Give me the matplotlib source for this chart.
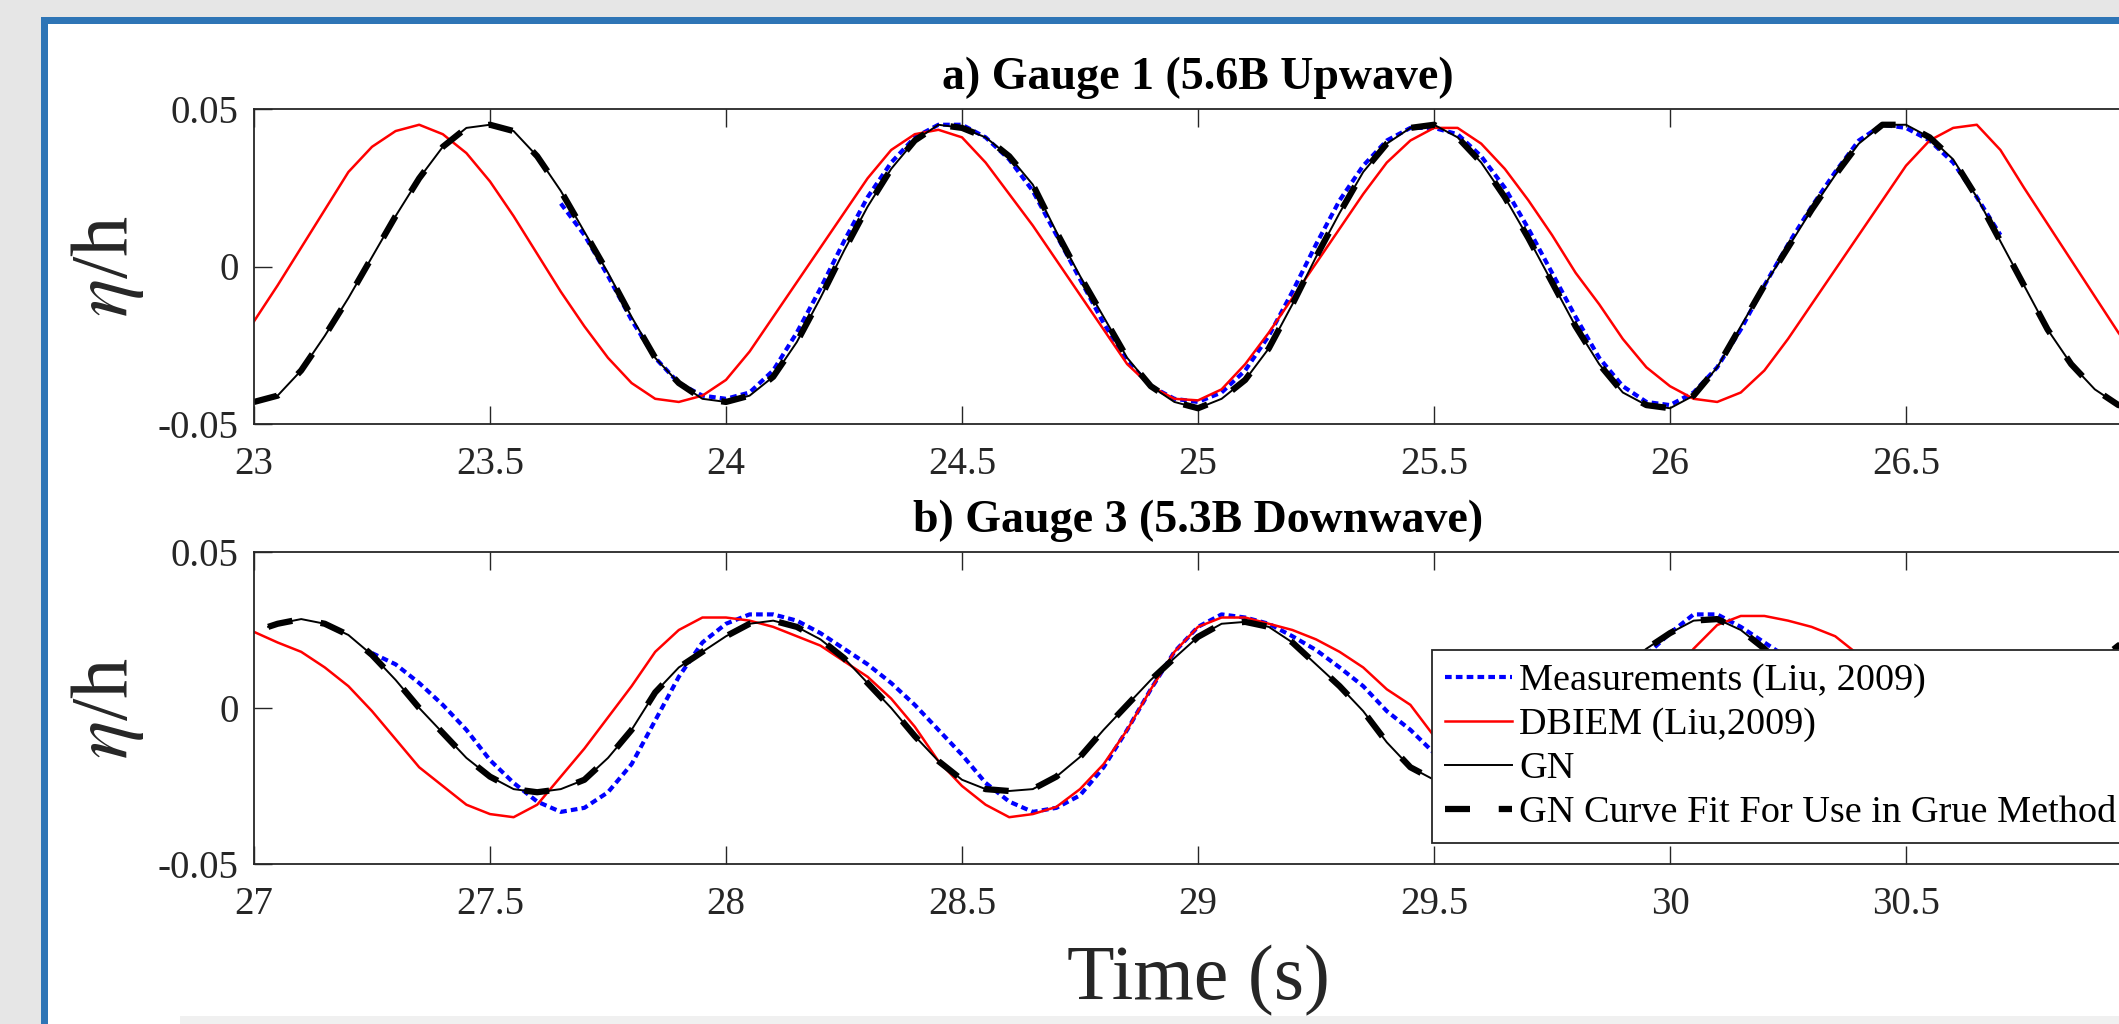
import numpy as np
import matplotlib
matplotlib.use("Agg")
import matplotlib.pyplot as plt
from matplotlib.patches import Rectangle

plt.rcParams['font.family'] = ['Liberation Serif', 'DejaVu Serif']
plt.rcParams['mathtext.fontset'] = 'stix'

# --- Data ---
# a) Gauge 1 (5.6B Upwave)
t_top = np.round(np.arange(23.0, 27.0001, 0.05), 2)
gn_top = [-0.043, -0.041, -0.033, -0.022, -0.010, 0.003, 0.016, 0.028, 0.038, 0.044,
          0.045, 0.043, 0.035, 0.024, 0.011, -0.002, -0.016, -0.029, -0.037, -0.042,
          -0.043, -0.041, -0.035, -0.024, -0.010, 0.005, 0.019, 0.031, 0.040, 0.045,
          0.044, 0.041, 0.035, 0.026, 0.011, -0.003, -0.016, -0.029, -0.038, -0.043,
          -0.045, -0.042, -0.036, -0.026, -0.012, 0.003, 0.017, 0.030, 0.039, 0.044,
          0.045, 0.041, 0.033, 0.022, 0.009, -0.005, -0.019, -0.031, -0.040, -0.044,
          -0.045, -0.041, -0.032, -0.019, -0.006, 0.006, 0.018, 0.029, 0.039, 0.045,
          0.045, 0.041, 0.034, 0.022, 0.008, -0.006, -0.020, -0.031, -0.039, -0.044,
          -0.045]
fit_top = gn_top
dbiem_top = [-0.0174, -0.006, 0.006, 0.018, 0.030, 0.038, 0.043, 0.045, 0.042, 0.036,
             0.027, 0.016, 0.004, -0.008, -0.019, -0.029, -0.037, -0.042, -0.043, -0.041,
             -0.036, -0.027, -0.016, -0.005, 0.006, 0.017, 0.028, 0.037, 0.042, 0.0434,
             0.041, 0.033, 0.023, 0.013, 0.002, -0.009, -0.020, -0.031, -0.038, -0.042,
             -0.0425, -0.039, -0.031, -0.021, -0.010, 0.001, 0.012, 0.023, 0.033, 0.040,
             0.044, 0.044, 0.039, 0.031, 0.021, 0.010, -0.002, -0.012, -0.023, -0.032,
             -0.038, -0.042, -0.043, -0.040, -0.033, -0.023, -0.012, -0.001, 0.010, 0.021,
             0.032, 0.040, 0.044, 0.045, 0.037, 0.025, 0.0135, 0.002, -0.0095, -0.021,
             -0.031]
t_meas_top = np.round(np.arange(23.65, 26.7001, 0.05), 2)
meas_top = [0.020, 0.010, -0.003, -0.017, -0.029, -0.037, -0.041, -0.042,
            -0.040, -0.033, -0.021, -0.007, 0.008, 0.022, 0.033, 0.041, 0.045, 0.045,
            0.041, 0.034, 0.024, 0.010, -0.004, -0.018, -0.030, -0.038, -0.042, -0.043,
            -0.040, -0.033, -0.022, -0.008, 0.007, 0.021, 0.032, 0.040, 0.044, 0.044,
            0.042, 0.035, 0.025, 0.012, -0.002, -0.016, -0.029, -0.038, -0.043, -0.044,
            -0.040, -0.032, -0.020, -0.006, 0.007, 0.019, 0.030, 0.040, 0.045, 0.044,
            0.040, 0.033, 0.022, 0.010]

# b) Gauge 3 (5.3B Downwave)
t_bot = np.round(np.arange(27.0, 31.0001, 0.05), 2)
t_gn_bot = np.concatenate([[27.03], t_bot[1:]])
gn_bot = [0.026, 0.027, 0.0285, 0.027, 0.0234, 0.017, 0.009, 0.000, -0.008, -0.016,
          -0.022, -0.026, -0.027, -0.026, -0.023, -0.016, -0.007, 0.005, 0.013, 0.018,
          0.023, 0.027, 0.028, 0.026, 0.022, 0.016, 0.008, 0.000, -0.009, -0.017,
          -0.023, -0.026, -0.0266, -0.026, -0.022, -0.0157, -0.007, 0.001, 0.009, 0.016,
          0.0228, 0.027, 0.0276, 0.026, 0.021, 0.014, 0.007, -0.001, -0.011, -0.019,
          -0.023, -0.026, -0.027, -0.026, -0.022, -0.015, -0.006, 0.004, 0.013, 0.019,
          0.024, 0.028, 0.0285, 0.025, 0.019, 0.012, 0.004, -0.005, -0.013, -0.020,
          -0.025, -0.027, -0.027, -0.025, -0.020, -0.013, -0.004, 0.006, 0.014, 0.020,
          0.025]
fit_bot = gn_bot
dbiem_bot = [0.0244, 0.021, 0.018, 0.013, 0.007, -0.001, -0.010, -0.019, -0.025, -0.031,
             -0.034, -0.035, -0.031, -0.022, -0.013, -0.003, 0.007, 0.018, 0.025, 0.029,
             0.029, 0.028, 0.026, 0.023, 0.020, 0.015, 0.010, 0.003, -0.006, -0.017,
             -0.025, -0.031, -0.035, -0.034, -0.0317, -0.026, -0.018, -0.007, 0.006, 0.018,
             0.026, 0.029, 0.029, 0.027, 0.025, 0.022, 0.018, 0.013, 0.006, 0.001,
             -0.009, -0.018, -0.026, -0.032, -0.035, -0.034, -0.029, -0.020, -0.009, 0.000,
             0.009, 0.019, 0.0266, 0.0295, 0.0295, 0.028, 0.026, 0.023, 0.017, 0.010,
             0.001, -0.009, -0.019, -0.027, -0.032, -0.034, -0.033, -0.028, -0.020, -0.010,
             0.000]
t_meas_bot = np.round(np.arange(27.25, 30.3501, 0.05), 2)
meas_bot = [0.0176, 0.014, 0.008, 0.001, -0.007, -0.0167, -0.024, -0.030, -0.0333, -0.032,
            -0.027, -0.018, -0.004, 0.010, 0.021, 0.027, 0.030, 0.030, 0.028, 0.024,
            0.019, 0.014, 0.008, 0.001, -0.007, -0.015, -0.024, -0.030, -0.0333, -0.032,
            -0.028, -0.019, -0.007, 0.006, 0.018, 0.026, 0.030, 0.029, 0.027, 0.023,
            0.0186, 0.013, 0.007, -0.001, -0.007, -0.0144, -0.022, -0.029, -0.033, -0.032,
            -0.026, -0.016, -0.004, 0.008, 0.017, 0.024, 0.030, 0.030, 0.026, 0.021,
            0.016, 0.010, 0.004]

labels = ["Measurements (Liu, 2009)", "DBIEM (Liu,2009)", "GN",
          "GN Curve Fit For Use in Grue Method"]
ytick_vals = [-0.05, 0, 0.05]
ytick_labels = ["-0.05", "0", "0.05"]

W, H = 2119, 1024
fig = plt.figure(figsize=(W / 100, H / 100), dpi=100)
fig.patch.set_facecolor('#e6e6e6')


def px_rect(x0, y0, x1, y1, color):
    fig.patches.append(Rectangle((x0 / W, 1 - y1 / H), (x1 - x0) / W, (y1 - y0) / H,
                                 transform=fig.transFigure, facecolor=color,
                                 edgecolor='none', zorder=-10))


# screenshot frame
px_rect(48, 24, W, 1016, 'white')
px_rect(48, 1016, 180, H, 'white')
px_rect(180, 1016, W, H, '#f0f0f0')
px_rect(41, 17, 48, H, '#2e75b6')
px_rect(41, 17, W, 24, '#2e75b6')

axc = '#262626'
left = 254 / W
width = 1888 / W
ax1 = fig.add_axes([left, 1 - 424 / H, width, 315 / H])
ax2 = fig.add_axes([left, 1 - 864 / H, width, 312 / H])


def draw(ax, tm, meas, t, dbiem, tg, gn, fit):
    hm, = ax.plot(tm, meas, color='blue', lw=3, linestyle=(0, (1.6, 1.0)))
    hd, = ax.plot(t, dbiem, color='red', lw=1.8)
    hg, = ax.plot(tg, gn, color='black', lw=1.4)
    hf, = ax.plot(tg, fit, color='black', lw=4.5, linestyle=(0, (4, 4.6)))
    return [hm, hd, hg, hf]


draw(ax1, t_meas_top, meas_top, t_top, dbiem_top, t_top, gn_top, fit_top)
handles = draw(ax2, t_meas_bot, meas_bot, t_bot, dbiem_bot, t_gn_bot, gn_bot, fit_bot)

for ax, x0, title in [(ax1, 23, "a) Gauge 1 (5.6B Upwave)"),
                      (ax2, 27, "b) Gauge 3 (5.3B Downwave)")]:
    ax.set_xlim(x0, x0 + 4)
    ax.set_ylim(-0.05, 0.05)
    xt = np.arange(x0, x0 + 4.001, 0.5)
    ax.set_xticks(xt)
    # last label sits past the right edge of the screenshot
    ax.set_xticklabels([f"{v:g}" for v in xt[:-1]] + [""])
    ax.set_yticks(ytick_vals)
    ax.set_yticklabels(ytick_labels)
    ax.tick_params(direction='in', top=True, right=True, length=13, width=1.0,
                   color=axc, labelcolor=axc, labelsize=28)
    ax.tick_params(axis='x', pad=16)
    ax.tick_params(axis='y', pad=11)
    for s in ax.spines.values():
        s.set_color(axc)
        s.set_linewidth(1.3)
    ax.set_ylabel(r"$\eta$/h", fontsize=58, color=axc)
    ax.yaxis.set_label_coords(-0.057, 0.5)
    h_px = ax.get_position().height * H
    ax.text(0.5, 1 + 20 / h_px, title, transform=ax.transAxes, ha='center',
            va='baseline', fontsize=33, fontweight='bold', color='black')

ax2.set_xlabel("Time (s)", fontsize=56, color=axc)
ax2.xaxis.set_label_coords(0.5, -0.258)

leg = ax2.legend(handles, labels, loc='upper left', bbox_to_anchor=(1432 / W, 1 - 650 / H),
                 bbox_transform=fig.transFigure, borderaxespad=0, fontsize=27.5,
                 handlelength=1.74, handletextpad=0.2, labelspacing=0.24,
                 borderpad=0.35, fancybox=False, framealpha=1)
leg.get_frame().set_edgecolor(axc)
leg.get_frame().set_linewidth(1.3)

fig.savefig("out.png", dpi=100, facecolor=fig.get_facecolor())
